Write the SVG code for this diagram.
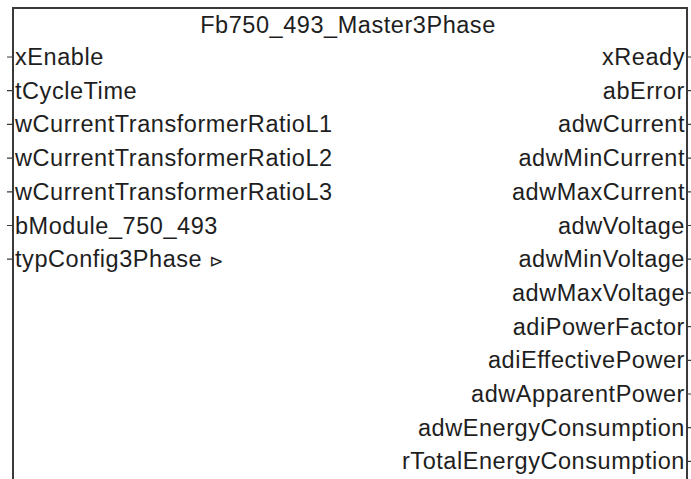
<svg xmlns="http://www.w3.org/2000/svg" width="691" height="479" viewBox="0 0 691 479">
  <style>
    .frame { fill: none; stroke: #3a3a3a; stroke-width: 2; }
    .pin { stroke: #3a3a3a; stroke-width: 1.2; }
    .lbl { font-family: "Liberation Sans", Arial, sans-serif; font-size: 23.5px; letter-spacing: 0.55px; fill: #1e1e1e; }
    .in { text-anchor: start; }
    .out { text-anchor: end; }
    .title { text-anchor: middle; }
  </style>
  <rect width="691" height="479" fill="#ffffff"/>

  <!-- function block body (open at the bottom) -->
  <g id="fb750_493_master3phase">
    <path class="frame" d="M13,490 V8 H687 V490"/>
    <text class="lbl title" x="348" y="33">Fb750_493_Master3Phase</text>

    <!-- inputs -->
    <g id="inputs">
      <text class="lbl in" x="15" y="65">xEnable</text>
      <text class="lbl in" x="15" y="98.7">tCycleTime</text>
      <text class="lbl in" x="15" y="132.4">wCurrentTransformerRatioL1</text>
      <text class="lbl in" x="15" y="166.1">wCurrentTransformerRatioL2</text>
      <text class="lbl in" x="15" y="199.8">wCurrentTransformerRatioL3</text>
      <text class="lbl in" x="15" y="233.5">bModule_750_493</text>
      <text class="lbl in" x="15" y="267.2">typConfig3Phase <tspan font-family="'DejaVu Sans', sans-serif" font-size="17">⊳</tspan></text>
    </g>

    <!-- outputs -->
    <g id="outputs">
      <text class="lbl out" x="685" y="65">xReady</text>
      <text class="lbl out" x="685" y="98.7">abError</text>
      <text class="lbl out" x="685" y="132.4">adwCurrent</text>
      <text class="lbl out" x="685" y="166.1">adwMinCurrent</text>
      <text class="lbl out" x="685" y="199.8">adwMaxCurrent</text>
      <text class="lbl out" x="685" y="233.5">adwVoltage</text>
      <text class="lbl out" x="685" y="267.2">adwMinVoltage</text>
      <text class="lbl out" x="685" y="300.9">adwMaxVoltage</text>
      <text class="lbl out" x="685" y="334.6">adiPowerFactor</text>
      <text class="lbl out" x="685" y="368.3">adiEffectivePower</text>
      <text class="lbl out" x="685" y="402">adwApparentPower</text>
      <text class="lbl out" x="685" y="435.7">adwEnergyConsumption</text>
      <text class="lbl out" x="685" y="469.4">rTotalEnergyConsumption</text>
    </g>
  </g>

  <!-- pin stubs -->
  <g id="connectors">
    <path class="pin" d="M7,57H12 M7,90.7H12 M7,124.4H12 M7,158.1H12 M7,191.8H12 M7,225.5H12 M7,259.2H12"/>
    <path class="pin" d="M688,57H691 M688,90.7H691 M688,124.4H691 M688,158.1H691 M688,191.8H691 M688,225.5H691 M688,259.2H691 M688,292.9H691 M688,326.6H691 M688,360.3H691 M688,394H691 M688,427.7H691 M688,461.4H691"/>
  </g>
</svg>
